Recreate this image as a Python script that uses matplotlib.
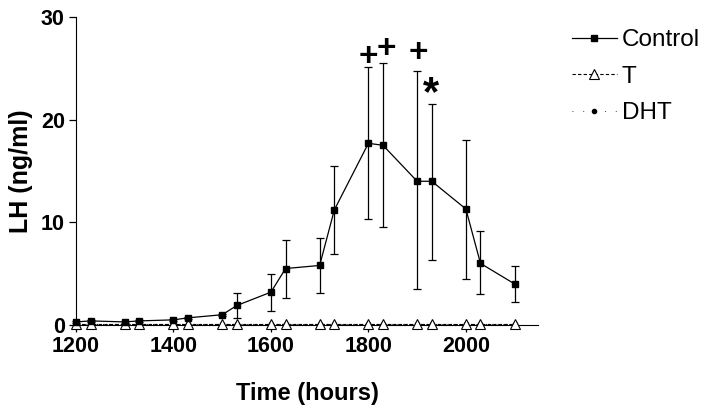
import matplotlib.pyplot as plt
from matplotlib.lines import Line2D
import numpy as np

# Sampling times (hours)
hours = [1200, 1230, 1300, 1330, 1400, 1430, 1500, 1530, 1600, 1630,
         1700, 1730, 1800, 1830, 1900, 1930, 2000, 2030, 2100]

# Control LH (ng/ml), mean with upper/lower error limits
ctrl_mean = [0.3, 0.4, 0.3, 0.4, 0.5, 0.7, 1.0, 1.9, 3.2, 5.5,
             5.8, 11.2, 17.7, 17.5, 14.0, 14.0, 11.3, 6.0, 4.0]
ctrl_hi = [0.4, 0.5, 0.4, 0.5, 0.6, 0.8, 1.1, 3.1, 5.0, 8.3,
           8.5, 15.5, 25.1, 25.5, 24.7, 21.5, 18.0, 9.2, 5.7]
ctrl_lo = [0.2, 0.3, 0.2, 0.3, 0.4, 0.6, 0.9, 0.7, 1.4, 2.6,
           3.1, 6.9, 10.3, 9.5, 3.5, 6.3, 4.5, 3.0, 2.2]

t_mean = [0.1] * 19
dht_mean = [0.1] * 19

# significance marks
sig_x = [1800, 1837, 1903, 1928]
sig_y = [26.1, 26.8, 26.4, 22.5]
sig_txt = ["+", "+", "+", "*"]
sig_size = [24, 24, 24, 30]

FONT = "Liberation Sans"
W, H = 709, 413
fig = plt.figure(figsize=(W / 100, H / 100), dpi=100)
ax = fig.add_axes([76 / W, (H - 325) / H, (538 - 76) / W, (325 - 17) / H])

mean = np.array(ctrl_mean)
yerr = [mean - np.array(ctrl_lo), np.array(ctrl_hi) - mean]

ax.plot(hours, dht_mean, linestyle=":", color="black", marker="o",
        markersize=3, linewidth=0.8, zorder=2, clip_on=False)
ax.plot(hours, t_mean, linestyle=(0, (3, 2)), color="black", marker="^",
        markersize=7, markerfacecolor="white", markeredgewidth=0.8,
        linewidth=0.8, zorder=3, clip_on=False)
ax.errorbar(hours, ctrl_mean, yerr=yerr, color="black", marker="s",
            markersize=4, linewidth=0.9, elinewidth=0.9, capsize=3,
            capthick=0.9, zorder=4, clip_on=False)

for x, y, s, fs in zip(sig_x, sig_y, sig_txt, sig_size):
    ax.text(x, y, s, ha="center", va="center", fontsize=fs,
            fontweight="bold", family=FONT)

ax.set_xlim(1200, 2148)
ax.set_ylim(0, 30)
ax.set_xticks([1200, 1400, 1600, 1800, 2000])
ax.set_yticks([0, 10, 20, 30])
ax.spines["top"].set_visible(False)
ax.spines["right"].set_visible(False)
ax.tick_params(direction="out", length=5, width=0.9, pad=3)
for lab in ax.get_xticklabels() + ax.get_yticklabels():
    lab.set_fontsize(15.5)
    lab.set_fontweight("bold")
    lab.set_family(FONT)

ax.set_xlabel("Time (hours)", fontsize=17, fontweight="bold",
              family=FONT, labelpad=18)
ax.set_ylabel("LH (ng/ml)", fontsize=18, fontweight="bold",
              family=FONT, labelpad=6)

handles = [
    Line2D([], [], color="black", linewidth=0.9, marker="s", markersize=4),
    Line2D([], [], color="black", linewidth=0.8, linestyle=(0, (3, 2)),
           marker="^", markersize=7, markerfacecolor="white", markeredgewidth=0.8),
    Line2D([], [], color="black", linewidth=0.6, linestyle=(0, (1, 12)),
           marker="o", markersize=3),
]
labels = ["Control", "T", "DHT"]
fig.legend(handles, labels, loc="upper left", bbox_to_anchor=(572 / W, 1 - 29 / H),
           frameon=False, handlelength=1.85, handletextpad=0.2,
           labelspacing=0.6, borderaxespad=0, borderpad=0,
           prop={"family": FONT, "size": 17.5})

fig.savefig("out.png", dpi=100)
